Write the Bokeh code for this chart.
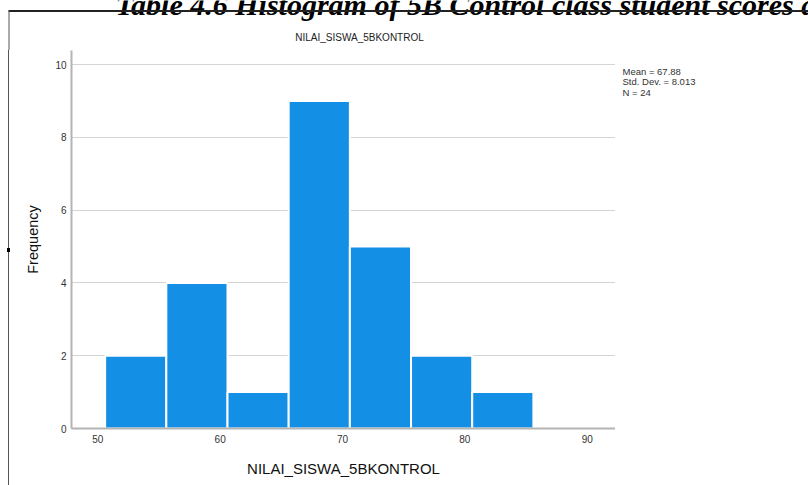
from bokeh.plotting import figure
from bokeh.layouts import column, row
from bokeh.models import Range1d, FixedTicker, Div, Spacer
from bokeh.core.properties import value
from bokeh.embed import file_html
from bokeh.resources import INLINE

# ---- data ----
doc_title = "Table 4.6 Histogram of 5B Control class student scores a"
chart_title = "NILAI_SISWA_5BKONTROL"
x_label = "NILAI_SISWA_5BKONTROL"
y_label = "Frequency"
bin_start = 50.6
bin_width = 5
counts = [2, 4, 1, 9, 5, 2, 1]
x_ticks = [50, 60, 70, 80, 90]
y_ticks = [0, 2, 4, 6, 8, 10]
stats = ["Mean = 67.88", "Std. Dev. = 8.013", "N = 24"]

lefts = [bin_start + i * bin_width for i in range(len(counts))]
rights = [l + bin_width for l in lefts]

# ---- layout (page pixels) ----
W, H = 808, 485
HEAD_H = 50
PAD_W, RULE_W = 7, 3
LEFT_W = PAD_W + RULE_W
FL, FR, FB = 71, 615, 428
X0, X1 = 47.85, 92.31
Y0, Y1 = 0, 10.39
BODY_H = H - HEAD_H
FONT = "Liberation Sans"


def blank(w, h, x0, x1, y0, y1):
    f = figure(width=w, height=h, output_backend="svg", toolbar_location=None,
               x_range=Range1d(x0, x1), y_range=Range1d(y1, y0),
               x_axis_type=None, y_axis_type=None, min_border=0)
    f.outline_line_color = None
    f.background_fill_color = "white"
    f.border_fill_color = "white"
    return f


# header strip: cut-off document caption, page rule, chart title
header = blank(W, HEAD_H, 0, W, 0, HEAD_H)
header.text(x=[115], y=[4], text=[doc_title], text_font=value("Liberation Serif"),
            text_font_style="bold italic", text_font_size="30px",
            text_baseline="alphabetic", text_color="black")
header.segment(x0=[8], y0=[10.5], x1=[W], y1=[10.5], line_color="#222222", line_width=2)
header.segment(x0=[8.5], y0=[10.5], x1=[8.5], y1=[HEAD_H], line_color="#555555", line_width=1)
header.text(x=[359], y=[37], text=[chart_title], text_font=value(FONT),
            text_font_size="10px", text_align="center", text_baseline="middle",
            text_color="#222222")

# page border line on the left (with the small black mark of the page)
pad = Spacer(width=PAD_W, height=BODY_H, margin=0)
rule = Div(width=RULE_W, height=BODY_H, margin=0, styles={
    "background": "linear-gradient(#000000,#000000) 0 198px / 3px 4px no-repeat, "
                  "linear-gradient(#555555,#555555) 1px 0 / 1px 100% no-repeat"})

# chart
p = figure(width=FR - LEFT_W, height=BODY_H, output_backend="svg", toolbar_location=None,
           x_range=Range1d(X0, X1), y_range=Range1d(Y0, Y1),
           min_border_left=FL - LEFT_W, min_border_right=0,
           min_border_top=0, min_border_bottom=H - FB, margin=0)
p.outline_line_color = None
p.background_fill_color = "white"
p.border_fill_color = "white"

p.quad(left=lefts, right=rights, top=counts, bottom=0,
       fill_color="#148fe6", line_color="white", line_width=2)

for ax in (p.xaxis[0], p.yaxis[0]):
    ax.axis_line_color = "#b4b4b4"
    ax.axis_line_width = 2
    ax.major_tick_line_color = None
    ax.minor_tick_line_color = None
    ax.major_tick_out = 0
    ax.major_tick_in = 0
    ax.minor_tick_out = 0
    ax.minor_tick_in = 0
    ax.major_label_text_font = FONT
    ax.major_label_text_font_size = "10px"
    ax.major_label_text_color = "#333333"
    ax.axis_label_text_font = FONT
    ax.axis_label_text_font_style = "normal"
    ax.axis_label_text_color = "#111111"

p.xaxis.ticker = FixedTicker(ticks=x_ticks)
p.yaxis.ticker = FixedTicker(ticks=y_ticks)
p.xaxis.axis_label = x_label
p.yaxis.axis_label = y_label
p.xaxis.major_label_standoff = 6
p.yaxis.major_label_standoff = 5
p.xaxis.axis_label_standoff = 14
p.yaxis.axis_label_standoff = 11
p.xaxis.axis_label_text_font_size = "15px"
p.yaxis.axis_label_text_font_size = "14.5px"

p.xgrid.grid_line_color = None
p.ygrid.ticker = FixedTicker(ticks=y_ticks)
p.ygrid.grid_line_color = "#d4d4d4"
p.ygrid.grid_line_width = 1

# stats box (its frame is aligned with the chart frame: page y HEAD_H..FB)
st = blank(W - FR, BODY_H, FR, W, HEAD_H, FB)
st.margin = 0
st.text(x=[622] * len(stats), y=[70.5 + i * 10.5 for i in range(len(stats))], text=stats,
        text_font=value(FONT), text_font_size="9.5px", text_baseline="middle",
        text_color="#333333")

layout = column(header, row(pad, rule, p, st, margin=0), margin=0)

open("out.html", "w").write(file_html(layout, INLINE))
